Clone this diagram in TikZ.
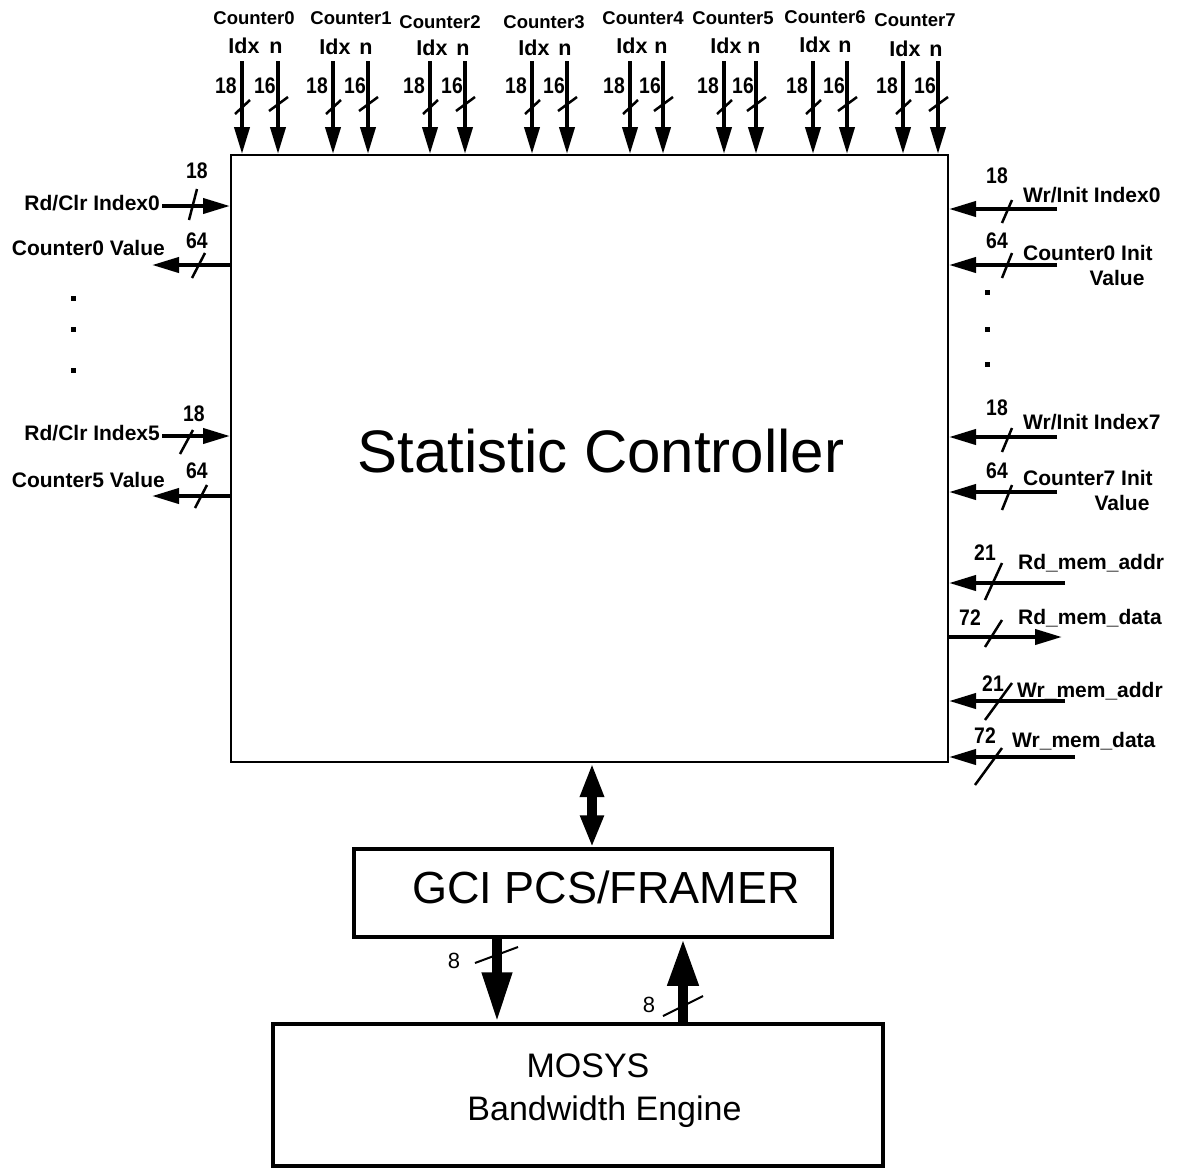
\documentclass[tikz,border=0pt]{standalone}
\usepackage{fontspec}
\usepackage{graphicx}
\setmainfont{Liberation Sans}
\usetikzlibrary{arrows.meta}
\newcommand\narrowtxt[1]{\scalebox{0.86}[1]{#1}}
\begin{document}
\begin{tikzpicture}[x=1pt,y=-1pt,
  lbl/.style={font=\bfseries\fontsize{21}{22}\selectfont, inner sep=0pt, text height=15pt, text depth=0pt},
  toplbl/.style={font=\bfseries\fontsize{18.5}{20}\selectfont, inner sep=0pt, text height=13.2pt, text depth=0pt},
  idxlbl/.style={font=\bfseries\fontsize{21.5}{24}\selectfont, inner sep=0pt, text height=15.5pt, text depth=0pt},
  num/.style={font=\bfseries\fontsize{22.5}{24}\selectfont, inner sep=0pt, text height=16.1pt, text depth=0pt},
  plainnum/.style={font=\fontsize{22}{24}\selectfont, inner sep=0pt, text height=15.8pt, text depth=0pt},
  bus/.style={line width=4pt, -{Triangle[length=27pt,width=15pt]}},
  slash/.style={line width=2.5pt},
  thinslash/.style={line width=2pt},
  dotm/.style={fill=black, minimum size=5pt, inner sep=0pt},
  blk/.style={draw, inner sep=0pt},
  bigarrow/.style={line width=10pt}
]
\useasboundingbox (0,0) rectangle (1181,1168);

% main block
\node[blk, line width=2pt, minimum width=717pt, minimum height=607pt] (sc) at (589.5,458.5) {};
\node[inner sep=0pt, font=\fontsize{60}{62}\selectfont, text height=43pt, text depth=0pt] (sctext) at (601,451) {Statistic Controller};

% GCI and MOSYS blocks
\node[blk, line width=3.5pt, minimum width=478pt, minimum height=88pt] (gci) at (593,893) {};
\node[inner sep=0pt, font=\fontsize{45}{47}\selectfont, text height=32pt, text depth=0pt] (gcitext) at (606,887) {GCI PCS/FRAMER};
\node[blk, line width=3.5pt, minimum width=610pt, minimum height=142pt] (mosys) at (578,1095) {};
\node[inner sep=0pt, font=\fontsize{34}{36}\selectfont, text height=24.3pt, text depth=0pt] (mosys1) at (588,1065) {MOSYS};
\node[inner sep=0pt, font=\fontsize{34}{36}\selectfont, text height=24.3pt, text depth=0pt] (mosys2) at (604.5,1108) {Bandwidth Engine};

% top counter inputs
\foreach \i/\xa/\xb/\cx/\cy/\iy in {0/242/278/254/18/46, 1/333/368/351/18/47, 2/430/465/440/22/48, 3/532/567/544/22/48, 4/630/663/643/18/46, 5/724/756/733/18/46, 6/813/847/825/17/45, 7/903/938/915/20/49}{
  \node[toplbl] (cnt\i) at (\cx,\cy) {Counter\i};
  \node[idxlbl] (idx\i) at (\xa+2,\iy) {Idx};
  \node[idxlbl] (nn\i) at (\xb-2,\iy) {n};
  \coordinate (ta\i) at (\xa,61);
  \coordinate (tb\i) at (\xb,61);
  \draw[bus] (ta\i) -- (ta\i |- sc.north);
  \draw[bus] (tb\i) -- (tb\i |- sc.north);
  \node[num] (na\i) at (\xa-16,85) {\narrowtxt{18}};
  \node[num] (nb\i) at (\xb-13,85) {\narrowtxt{16}};
  \draw[slash] (\xa-7,114) -- (\xa+8,100);
  \draw[slash] (\xb-9,111) -- (\xb+10,97);
}

% left side
\node[lbl, anchor=east] (lrd0) at (160,203) {Rd/Clr Index0};
\coordinate (lrd0e) at (162,206);
\draw[bus] (lrd0e) -- (lrd0e -| sc.west);
\node[num] (l18a) at (197,170) {\narrowtxt{18}};
\draw[slash] (189,220) -- (197,189);

\node[lbl, anchor=east] (lcv0) at (165,248) {Counter0 Value};
\coordinate (lcv0e) at (152,265);
\draw[bus] (lcv0e -| sc.west) -- (lcv0e);
\node[num] (l64a) at (197,240) {\narrowtxt{64}};
\draw[slash] (192,278) -- (205,253);

\node[dotm] (ld1) at (73,298) {};
\node[dotm] (ld2) at (73,329) {};
\node[dotm] (ld3) at (73,370) {};

\node[lbl, anchor=east] (lrd5) at (160,433) {Rd/Clr Index5};
\coordinate (lrd5e) at (162,436);
\draw[bus] (lrd5e) -- (lrd5e -| sc.west);
\node[num] (l18b) at (194,413) {\narrowtxt{18}};
\draw[slash] (180,454) -- (193,430);

\node[lbl, anchor=east] (lcv5) at (165,480) {Counter5 Value};
\coordinate (lcv5e) at (152,496);
\draw[bus] (lcv5e -| sc.west) -- (lcv5e);
\node[num] (l64b) at (197,470) {\narrowtxt{64}};
\draw[slash] (195,508) -- (207,485);

% right side
\node[lbl, anchor=west] (rwi0) at (1023,195) {Wr/Init Index0};
\coordinate (rwi0e) at (1057,209);
\draw[bus] (rwi0e) -- (rwi0e -| sc.east);
\node[num] (r18a) at (997,175) {\narrowtxt{18}};
\draw[slash] (1002,223) -- (1012,200);

\node[lbl, anchor=west] (rci0) at (1023,253) {Counter0 Init};
\node[lbl] (rci0v) at (1117,278) {Value};
\coordinate (rci0e) at (1057,265);
\draw[bus] (rci0e) -- (rci0e -| sc.east);
\node[num] (r64a) at (997,240) {\narrowtxt{64}};
\draw[slash] (1002,278) -- (1012,253);

\node[dotm] (rd1) at (987,292) {};
\node[dotm] (rd2) at (987,329) {};
\node[dotm] (rd3) at (987,364) {};

\node[lbl, anchor=west] (rwi7) at (1023,422) {Wr/Init Index7};
\coordinate (rwi7e) at (1057,437);
\draw[bus] (rwi7e) -- (rwi7e -| sc.east);
\node[num] (r18b) at (997,407) {\narrowtxt{18}};
\draw[slash] (1002,452) -- (1012,428);

\node[lbl, anchor=west] (rci7) at (1023,478) {Counter7 Init};
\node[lbl] (rci7v) at (1122,503) {Value};
\coordinate (rci7e) at (1057,492);
\draw[bus] (rci7e) -- (rci7e -| sc.east);
\node[num] (r64b) at (997,470) {\narrowtxt{64}};
\draw[slash] (1002,510) -- (1012,485);

\node[lbl, anchor=west] (rma) at (1018,562) {Rd\_mem\_addr};
\coordinate (rmae) at (1065,583);
\draw[bus] (rmae) -- (rmae -| sc.east);
\node[num] (r21a) at (985,552) {\narrowtxt{21}};
\draw[slash] (985,600) -- (1002,563);

\node[lbl, anchor=west] (rmd) at (1018,617) {Rd\_mem\_data};
\coordinate (rmde) at (1062,637);
\draw[bus] (rmde -| sc.east) -- (rmde);
\node[num] (r72a) at (970,617) {\narrowtxt{72}};
\draw[slash] (985,647) -- (1002,620);

\node[lbl, anchor=west] (wma) at (1017,690) {Wr\_mem\_addr};
\coordinate (wmae) at (1065,701);
\draw[bus] (wmae) -- (wmae -| sc.east);
\node[num] (r21b) at (993,683) {\narrowtxt{21}};
\draw[slash] (985,720) -- (1012,683);

\node[lbl, anchor=west] (wmd) at (1012,740) {Wr\_mem\_data};
\coordinate (wmde) at (1075,757);
\draw[bus] (wmde) -- (wmde -| sc.east);
\node[num] (r72b) at (985,735) {\narrowtxt{72}};
\draw[slash] (975,785) -- (1002,748);

% bottom connections
\coordinate (dbl) at (592,800);
\draw[bigarrow, {Triangle[length=34pt,width=22pt]}-{Triangle[length=32pt,width=22pt]}] (dbl |- sc.south) -- (dbl |- gci.north);

\coordinate (dn) at (497,980);
\draw[bigarrow, -{Triangle[length=50pt,width=28pt]}] (dn |- gci.south) -- (dn |- mosys.north);
\node[plainnum] (n8a) at (454,961) {8};
\draw[thinslash] (475,963) -- (518,947);

\coordinate (up) at (683,980);
\draw[bigarrow, -{Triangle[length=47pt,width=29pt]}] (up |- mosys.north) -- (up |- gci.south);
\node[plainnum] (n8b) at (649,1005) {8};
\draw[thinslash] (663,1016) -- (703,996);
\end{tikzpicture}
\end{document}
